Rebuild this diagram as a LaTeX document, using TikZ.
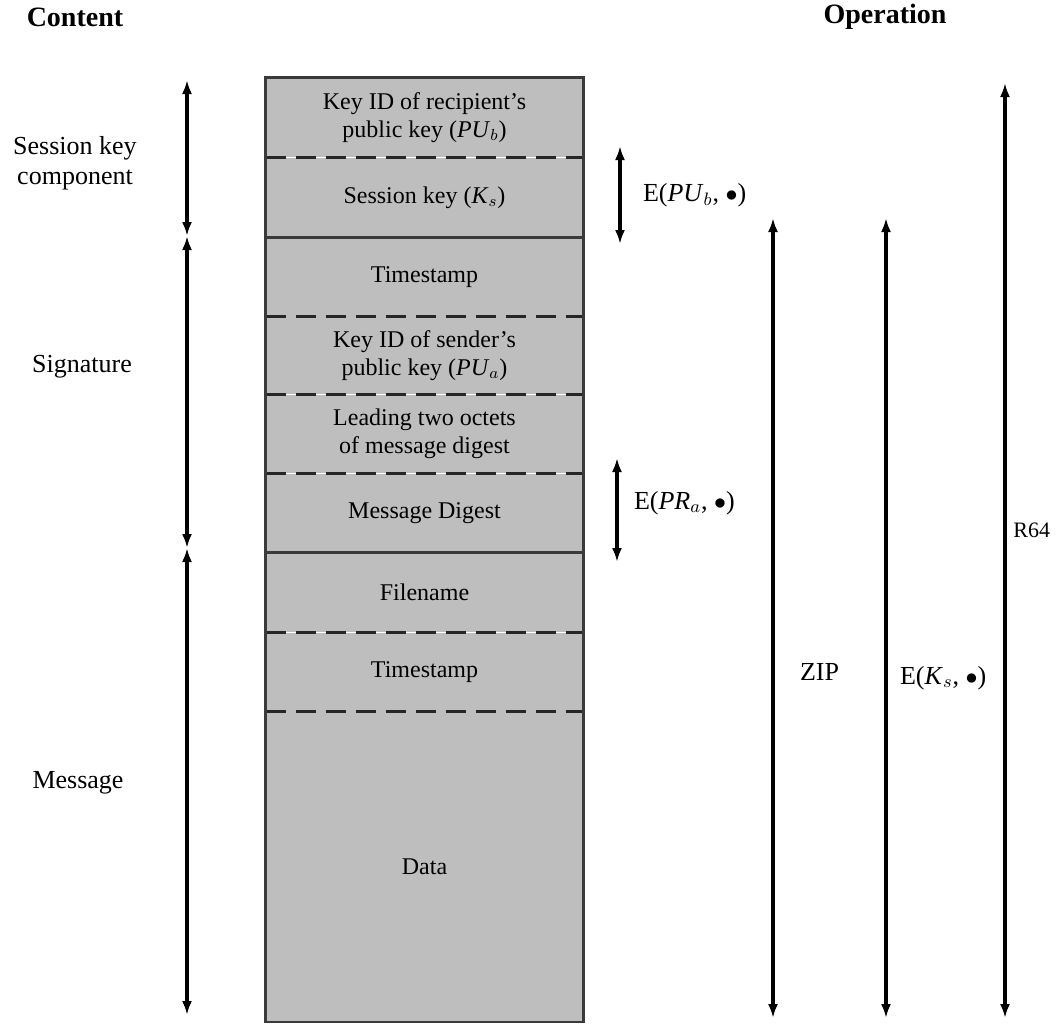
\documentclass[tikz,border=0pt]{standalone}
\usepackage{fontspec}
\setmainfont{Liberation Serif}
\usetikzlibrary{positioning, arrows.meta}
\definecolor{fieldGray}{HTML}{BEBEBE}
\definecolor{edgeDark}{HTML}{3A3A3A}

\begin{document}
\begin{tikzpicture}[x=0.5pt, y=-0.5pt,
  node distance=0pt,
  field/.style={rectangle, fill=fieldGray, minimum width=158.5pt, inner sep=0pt,
                align=center, font=\fontsize{12}{14}\selectfont},
  divider/.style={line width=1.5pt, dash pattern=on 10pt off 5pt, draw=black!85},
  solidline/.style={line width=1.3pt, draw=edgeDark},
  span/.style={{Latex[length=7pt,width=5pt]}-{Latex[length=7pt,width=5pt]}, line width=1.6pt},
  tag/.style={font=\fontsize{13}{15}\selectfont, align=center},
  header/.style={font=\fontsize{14}{16}\selectfont\bfseries}
]
\useasboundingbox (0,0) rectangle (1057,1025);
% message fields
\node[field, minimum height=39.5pt] (kidr) at (424.5,117.5)
  {Key ID of recipient's\\public key (\textit{PU}$_b$)};
\node[field, minimum height=39.5pt, below=of kidr] (skey) {Session key (\textit{K}$_s$)};
\node[field, minimum height=39pt, below=of skey] (ts1) {Timestamp};
\node[field, minimum height=39pt, below=of ts1] (kids)
  {Key ID of sender's\\public key (\textit{PU}$_a$)};
\node[field, minimum height=39pt, below=of kids] (lead)
  {Leading two octets\\of message digest};
\node[field, minimum height=39pt, below=of lead] (dig) {Message Digest};
\node[field, minimum height=39.5pt, below=of dig] (fname) {Filename};
\node[field, minimum height=39pt, below=of fname] (ts2) {Timestamp};
\node[field, minimum height=155pt, below=of ts2] (data) {Data};
\foreach \f in {kidr, ts1, kids, lead, fname, ts2}
  \draw[divider] (\f.south west) -- (\f.south east);
\draw[solidline] (skey.south west) -- (skey.south east);
\draw[solidline] (dig.south west) -- (dig.south east);
\draw[solidline] (kidr.north west) rectangle (data.south east);

% headers
\node[header] (content) at (75,17) {Content};
\node[header] (operation) at (885,17) {Operation};

% content spans
\coordinate (skTop) at (187,80);
\coordinate (skBot) at (187,236);
\coordinate (sgBot) at (187,548);
\coordinate (msBot) at (187,1015);
\draw[span] (skTop) -- (skBot);
\draw[span] (skBot) -- (sgBot);
\draw[span] (sgBot) -- (msBot);
\node[tag] (skcomp) at (75,163) {Session key\\component};
\node[tag] (sign) at (82,367) {Signature};
\node[tag] (msg) at (78,783) {Message};

% operation spans
\coordinate (pubTop) at (620,146);
\coordinate (pubBot) at (620,244);
\coordinate (praTop) at (617,458);
\coordinate (praBot) at (617,562);
\coordinate (zipTop) at (773,218);
\coordinate (zipBot) at (773,1018);
\coordinate (ksTop) at (886,218);
\coordinate (ksBot) at (886,1018);
\coordinate (rTop) at (1005,83);
\coordinate (rBot) at (1005,1018);
\draw[span] (pubTop) -- (pubBot);
\draw[span] (praTop) -- (praBot);
\draw[span] (zipTop) -- (zipBot);
\draw[span] (ksTop) -- (ksBot);
\draw[span] (rTop) -- (rBot);
\node[tag, anchor=west] (epub) at (636,195) {E(\textit{PU}$_b$, $\bullet$)};
\node[tag, anchor=west] (epra) at (627,503) {E(\textit{PR}$_a$, $\bullet$)};
\node[tag, anchor=west] (zip) at (793,672) {ZIP};
\node[tag, anchor=west] (eks) at (893,678) {E(\textit{K}$_s$, $\bullet$)};
\node[tag, anchor=west, inner sep=1pt, font=\fontsize{11}{13}\selectfont] (r64) at (1011,530) {R64};
\end{tikzpicture}
\end{document}
